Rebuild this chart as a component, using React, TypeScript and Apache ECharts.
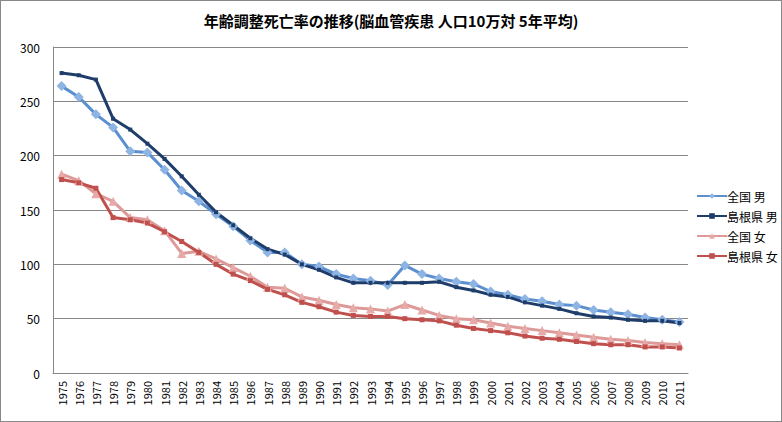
import { useEffect, useRef } from 'react';
import * as echarts from 'echarts';

const years = [
  '1975', '1976', '1977', '1978', '1979', '1980', '1981', '1982', '1983', '1984',
  '1985', '1986', '1987', '1988', '1989', '1990', '1991', '1992', '1993', '1994',
  '1995', '1996', '1997', '1998', '1999', '2000', '2001', '2002', '2003', '2004',
  '2005', '2006', '2007', '2008', '2009', '2010', '2011',
];

// 全国 男
const nationalMale = [
  264, 254, 238, 226, 204, 203, 187, 168, 158, 146,
  135, 122, 111, 111, 100, 98, 91, 87, 85, 81,
  99, 91, 87, 84, 82, 75, 72, 68, 66, 63,
  62, 58, 56, 54, 51, 49, 47,
];

// 島根県 男
const shimaneMale = [
  276, 274, 270, 234, 224, 211, 197, 181, 164, 148,
  136, 124, 114, 109, 100, 95, 88, 83, 83, 83,
  83, 83, 84, 79, 76, 72, 70, 65, 62, 59,
  55, 52, 51, 49, 48, 48, 46,
];

// 全国 女
const nationalFemale = [
  183, 177, 165, 158, 143, 141, 131, 110, 112, 105,
  97, 89, 79, 78, 70, 67, 63, 60, 59, 57,
  63, 58, 53, 50, 49, 46, 43, 41, 39, 37,
  35, 33, 31, 30, 28, 27, 26,
];

// 島根県 女
const shimaneFemale = [
  178, 175, 170, 143, 141, 138, 130, 121, 111, 100,
  91, 85, 77, 72, 65, 61, 56, 53, 52, 52,
  50, 49, 48, 44, 41, 39, 37, 34, 32, 31,
  29, 27, 26, 26, 24, 24, 23,
];

const FONT = '"Noto Sans CJK JP", "Noto Sans", sans-serif';

export default function App() {
  const chartRef = useRef<HTMLDivElement>(null);

  useEffect(() => {
    if (!chartRef.current) return;
    const chart = echarts.init(chartRef.current, undefined, { renderer: 'svg' });

    const lineSeries = (
      name: string,
      data: number[],
      lineColor: string,
      markerColor: string,
      symbol: string,
      symbolSize: number,
    ) => ({
      name,
      type: 'line' as const,
      data,
      symbol,
      symbolSize,
      showAllSymbol: true,
      lineStyle: { color: lineColor, width: 3 },
      itemStyle: { color: markerColor, borderColor: markerColor, borderWidth: 0 },
      emphasis: { disabled: true },
    });

    chart.setOption({
      animation: false,
      backgroundColor: '#ffffff',
      textStyle: { fontFamily: FONT },
      title: {
        text: '年齢調整死亡率の推移(脳血管疾患 人口10万対 5年平均)',
        left: 'center',
        top: 7,
        textStyle: { fontSize: 15, fontWeight: 'bold', color: '#000', fontFamily: FONT },
      },
      legend: {
        orient: 'vertical',
        left: 690,
        top: 184,
        itemWidth: 30,
        itemHeight: 7,
        itemGap: 8,
        textStyle: { fontSize: 12, color: '#000', fontFamily: FONT, padding: [0, 0, 0, -5] },
        data: ['全国 男', '島根県 男', '全国 女', '島根県 女'],
      },
      grid: { left: 52, top: 46, width: 635, height: 326 },
      xAxis: {
        type: 'category',
        data: years,
        boundaryGap: true,
        axisLine: { lineStyle: { color: '#888', width: 1 } },
        axisTick: { show: false },
        axisLabel: {
          rotate: 90,
          fontSize: 11,
          color: '#000',
          margin: 8,
          interval: 0,
          fontFamily: FONT,
        },
      },
      yAxis: {
        type: 'value',
        min: 0,
        max: 300,
        interval: 50,
        axisLine: { show: true, lineStyle: { color: '#888', width: 1 } },
        axisTick: { show: false },
        axisLabel: { fontSize: 12, color: '#000', margin: 13, fontFamily: FONT },
        splitLine: { lineStyle: { color: '#888', width: 1 } },
      },
      series: [
        lineSeries('全国 男', nationalMale, '#5B8FD0', '#8EB4E3', 'diamond', 10),
        lineSeries('島根県 男', shimaneMale, '#1F3D6B', '#1F3D6B', 'rect', 4),
        lineSeries('全国 女', nationalFemale, '#DD9A98', '#E6AAA8', 'triangle', 9),
        lineSeries('島根県 女', shimaneFemale, '#C0504D', '#C0504D', 'rect', 5),
      ],
    });

    return () => {
      chart.dispose();
    };
  }, []);

  return (
    <div
      style={{
        position: 'fixed',
        left: 0,
        top: 0,
        width: 782,
        height: 422,
        boxSizing: 'border-box',
        border: '1px solid #888',
        background: '#fff',
      }}
    >
      <div ref={chartRef} style={{ width: 780, height: 420 }} />
    </div>
  );
}
